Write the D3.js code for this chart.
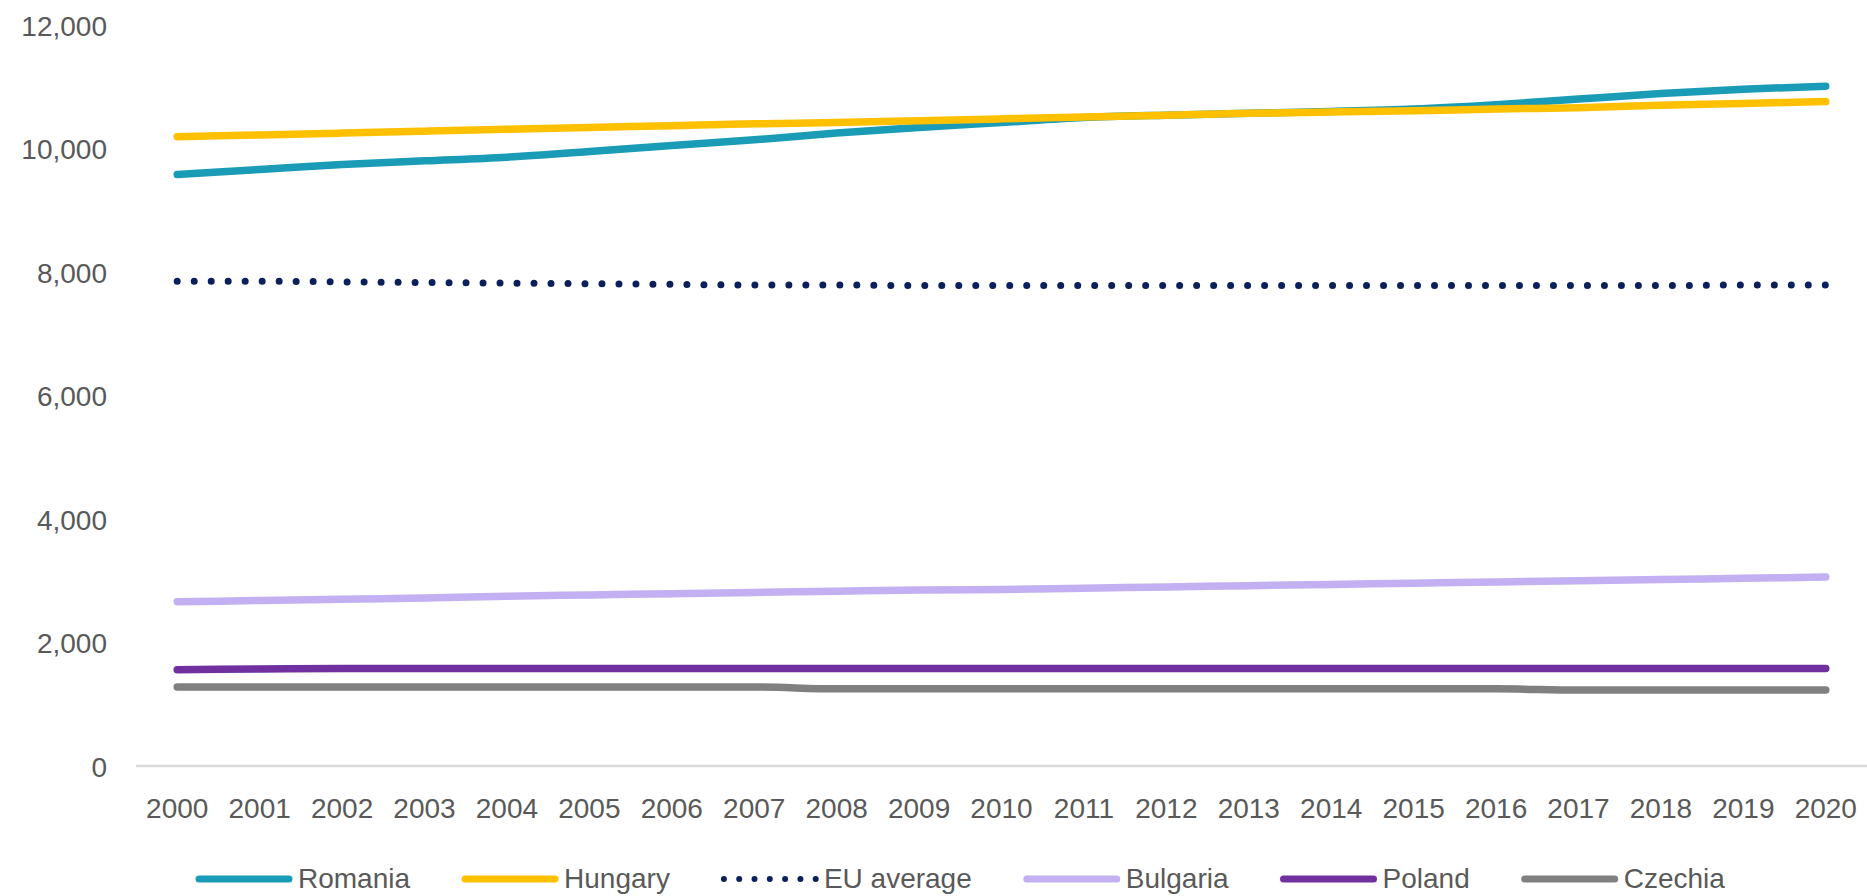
<!DOCTYPE html>
<html>
<head>
<meta charset="utf-8">
<script src="https://cdn.jsdelivr.net/npm/d3@7/dist/d3.min.js"></script>
<style>
  html, body { margin: 0; padding: 0; background: #ffffff; }
  svg { display: block; }
  text { font-family: "Liberation Sans", Arial, sans-serif; fill: #595959; }
</style>
</head>
<body>
<svg id="chart" width="1867" height="896"></svg>
<script>
// Categories and y-axis ticks
const years = ["2000","2001","2002","2003","2004","2005","2006","2007","2008","2009","2010",
               "2011","2012","2013","2014","2015","2016","2017","2018","2019","2020"];
const yTicks = [0, 2000, 4000, 6000, 8000, 10000, 12000];

// Series values
const romania  = [9580, 9660, 9740, 9800, 9860, 9950, 10050, 10140, 10250, 10340, 10420,
                  10500, 10540, 10570, 10600, 10640, 10710, 10800, 10890, 10960, 11010];
const hungary  = [10190, 10220, 10250, 10280, 10310, 10340, 10370, 10400, 10420, 10450, 10480,
                  10510, 10540, 10570, 10590, 10610, 10640, 10660, 10700, 10730, 10760];
const euAverage = [7850, 7850, 7840, 7830, 7820, 7810, 7800, 7790, 7790, 7780, 7780,
                   7780, 7780, 7780, 7780, 7780, 7780, 7780, 7780, 7790, 7790];
const bulgaria = [2660, 2680, 2700, 2720, 2750, 2770, 2790, 2810, 2830, 2850, 2860,
                  2880, 2900, 2920, 2940, 2960, 2980, 3000, 3020, 3040, 3060];
const poland   = [1560, 1570, 1580, 1580, 1580, 1580, 1580, 1580, 1580, 1580, 1580,
                  1580, 1580, 1580, 1580, 1580, 1580, 1580, 1580, 1580, 1580];
const czechia  = [1280, 1280, 1280, 1280, 1280, 1280, 1280, 1280, 1250, 1250, 1250,
                  1250, 1250, 1250, 1250, 1250, 1250, 1230, 1230, 1230, 1230];

const seriesNames = ["Romania", "Hungary", "EU average", "Bulgaria", "Poland", "Czechia"];
const seriesValues = [romania, hungary, euAverage, bulgaria, poland, czechia];
const seriesColors = ["#1a9bb6", "#ffc000", "#0b1f5a", "#c2b0f2", "#7030a0", "#808080"];
const seriesDotted = [false, false, true, false, false, false];

const svg = d3.select("#chart");

// Scales
const x = d3.scaleBand().domain(years).range([136, 1867]);
const y = d3.scaleLinear().domain([0, 12000]).range([766, 25]);
const cx = d => x(d) + x.bandwidth() / 2;

// Baseline axis line
svg.append("line")
  .attr("x1", 136).attr("x2", 1867)
  .attr("y1", y(0)).attr("y2", y(0))
  .attr("stroke", "#d9d9d9").attr("stroke-width", 2.5);

// Y axis labels
const yAxis = d3.axisLeft(y).tickValues(yTicks).tickFormat(d3.format(",")).tickSize(0).tickPadding(0);
const yg = svg.append("g").attr("transform", "translate(107,0)").call(yAxis);
yg.select(".domain").remove();
yg.selectAll("text")
  .attr("font-size", 28)
  .attr("font-family", "Liberation Sans, Arial, sans-serif")
  .attr("fill", "#595959")
  .attr("dy", "0.36em");

// X axis labels
const xAxis = d3.axisBottom(x).tickSize(0).tickPadding(0);
const xg = svg.append("g").attr("transform", "translate(0,818)").call(xAxis);
xg.select(".domain").remove();
xg.selectAll("text")
  .attr("font-size", 28)
  .attr("font-family", "Liberation Sans, Arial, sans-serif")
  .attr("fill", "#595959")
  .attr("dy", 0)
  .attr("y", 0);

// Lines
const line = d3.line()
  .x((d, i) => cx(years[i]))
  .y(d => y(d))
  .curve(d3.curveMonotoneX);

seriesValues.forEach((vals, k) => {
  const p = svg.append("path")
    .datum(vals)
    .attr("d", line)
    .attr("fill", "none")
    .attr("stroke", seriesColors[k])
    .attr("stroke-linecap", "round")
    .attr("stroke-linejoin", "round");
  if (seriesDotted[k]) {
    // space the dots evenly so one lands on each end of the line
    const len = p.node().getTotalLength();
    const n = Math.round(len / 17);
    const gap = (len - 0.5) / n;
    p.attr("stroke-width", 7).attr("stroke-dasharray", `0 ${gap}`);
  } else {
    p.attr("stroke-width", 7.5);
  }
});

// Legend
const legend = svg.append("g").attr("transform", "translate(0,879)");
let lx = 195;
seriesNames.forEach((name, k) => {
  const g = legend.append("g").attr("transform", `translate(${lx},0)`);
  const ln = g.append("line")
    .attr("x1", 4).attr("x2", 94).attr("y1", 0).attr("y2", 0)
    .attr("stroke", seriesColors[k])
    .attr("stroke-linecap", "round");
  if (seriesDotted[k]) {
    ln.attr("x1", 3).attr("x2", 95).attr("stroke-width", 6).attr("stroke-dasharray", "0 15.3");
  } else {
    ln.attr("stroke-width", 7);
  }
  const t = g.append("text")
    .attr("x", 103)
    .attr("y", 9)
    .attr("font-size", 28)
    .text(name);
  lx += 103 + t.node().getComputedTextLength() + 51;
});
</script>
</body>
</html>
